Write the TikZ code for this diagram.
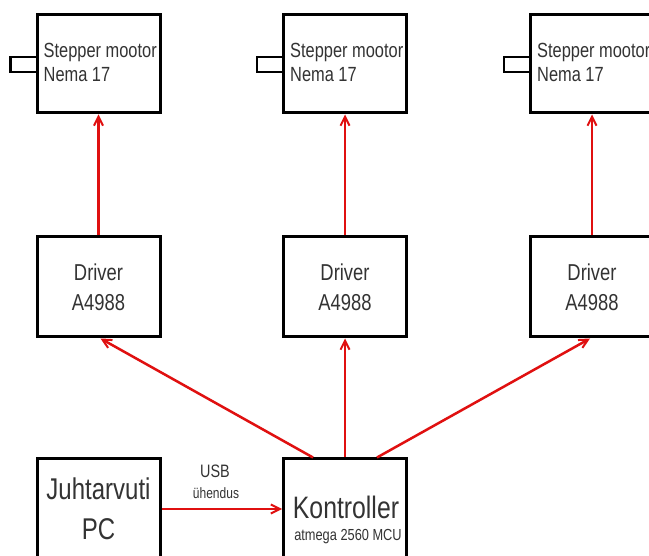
\documentclass[tikz,border=0pt]{standalone}
\usepackage{fontspec}
\setmainfont[FakeStretch=0.8]{Liberation Sans}
\usetikzlibrary{arrows.meta}
\definecolor{arrred}{HTML}{E01010}
\definecolor{txt}{HTML}{333333}
\tikzset{
  blk/.style={draw=black, line width=3pt, minimum width=123pt, inner sep=0pt},
  shaft/.style={draw=black, line width=2.6pt},
  conn/.style={draw=arrred, line width=2.5pt, -{Straight Barb[length=9pt,width=9pt,line width=2pt]}},
  lbl/.style={text=txt, inner sep=0pt, align=left},
}
\begin{document}
\begin{tikzpicture}[x=1pt,y=-1pt]
\useasboundingbox[fill=white] (0,0) rectangle (649,556);
% motors
\node[blk, minimum height=98pt] (m1) at (98.5,64) {};
\node[blk, minimum height=98pt] (m2) at (345,64) {};
\node[blk, minimum height=98pt] (m3) at (592,64) {};
% shafts
\foreach \m in {m1,m2,m3}{
  \draw[shaft] ([yshift=7pt]\m.west) -- ++(-25,0) -- ++(0,15) -- ++(25,0);
}
% motor labels
\foreach \m in {m1,m2,m3}{
  \node[lbl, anchor=west, font=\fontsize{20.5}{24}\selectfont] at ([xshift=8pt,yshift=12pt]\m.west) {Stepper mootor};
  \node[lbl, anchor=west, font=\fontsize{20.5}{24}\selectfont] at ([xshift=8pt,yshift=-11pt]\m.west) {Nema 17};
}
% drivers
\node[blk, minimum height=100pt, align=center, text=txt, font=\fontsize{23}{30}\selectfont] (d1) at (98.5,287) {Driver\\A4988};
\node[blk, minimum height=100pt, align=center, text=txt, font=\fontsize{23}{30}\selectfont] (d2) at (345,287) {Driver\\A4988};
\node[blk, minimum height=100pt, align=center, text=txt, font=\fontsize{23}{30}\selectfont] (d3) at (592,287) {Driver\\A4988};
% bottom
\node[blk, minimum height=110pt] (pc) at (98.5,514) {};
\node[blk, minimum height=110pt] (k) at (345,514) {};
\node[lbl, font=\fontsize{30}{36}\selectfont] at (98.5,489) {Juhtarvuti};
\node[lbl, font=\fontsize{30}{36}\selectfont] at (98.5,529) {PC};
\node[lbl, font=\fontsize{31}{36}\selectfont] at (346,507) {Kontroller};
\node[lbl, font=\fontsize{16}{20}\selectfont] at (348,537) {atmega 2560 MCU};
% connectors
\draw[conn] (d1.north) -- (m1.south);
\draw[conn] (d2.north) -- (m2.south);
\draw[conn] (d3.north) -- (m3.south);
\draw[conn] ([xshift=-32pt]k.north) -- ([xshift=2pt]d1.south);
\draw[conn] (k.north) -- (d2.south);
\draw[conn] ([xshift=32pt]k.north) -- ([xshift=-2pt]d3.south);
\coordinate (pcout) at (pc.east |- 0,509);
\coordinate (kin) at (k.west |- 0,509);
\draw[conn] (pcout) -- (kin);
\node[lbl, font=\fontsize{18}{22}\selectfont] at (215,471) {USB};
\node[lbl, font=\fontsize{15}{18}\selectfont] at (216,493) {ühendus};
\end{tikzpicture}
\end{document}
